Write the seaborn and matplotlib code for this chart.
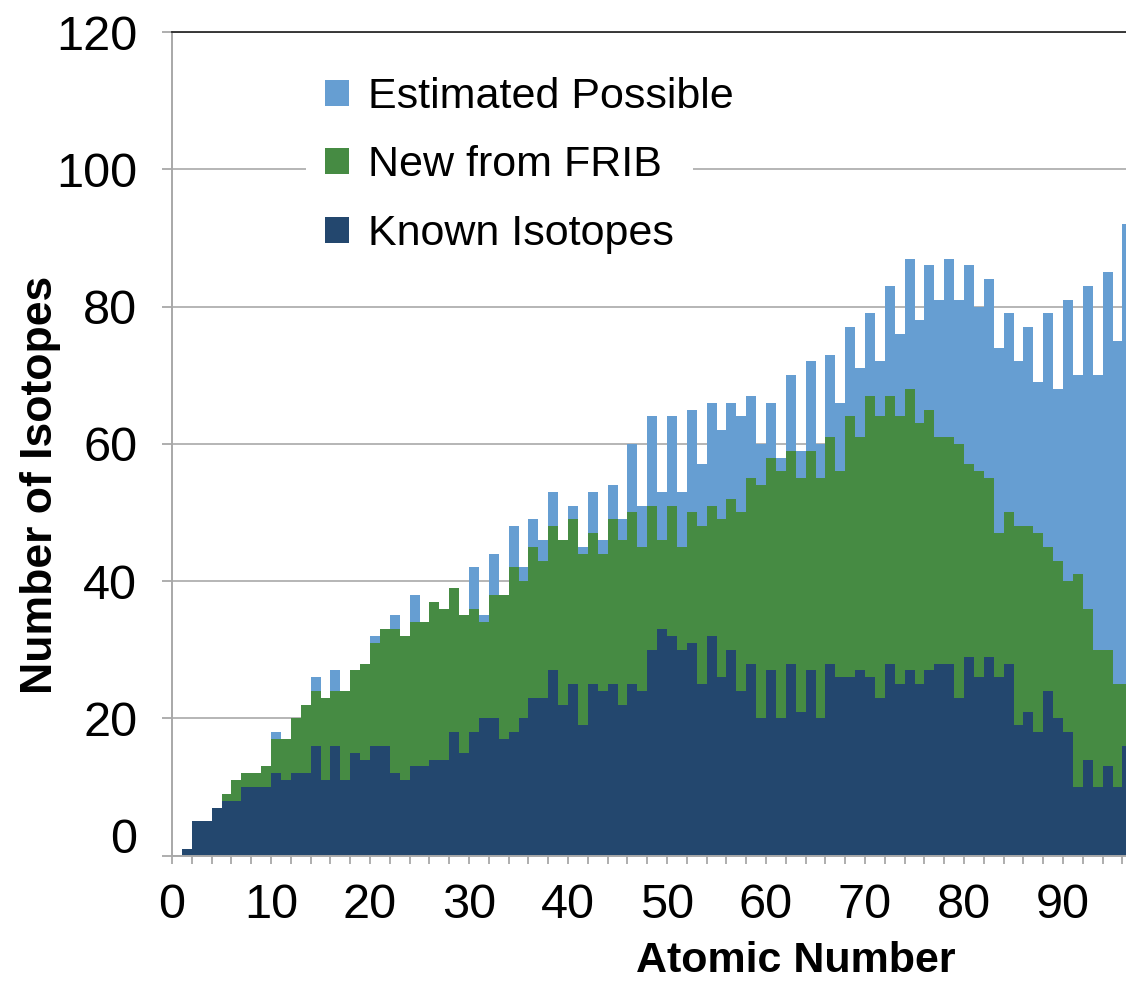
import numpy as np
import pandas as pd
import matplotlib
matplotlib.use("Agg")
import matplotlib.pyplot as plt
import matplotlib.patches as mpatches
import matplotlib.transforms as mtransforms
import seaborn as sns

# ---------------- data ----------------
atomic_number = list(range(1, 97))

known_isotopes = [1, 5, 5, 7, 8, 8, 10, 10, 10, 12,
                  11, 12, 12, 16, 11, 16, 11, 15, 14, 16,
                  16, 12, 11, 13, 13, 14, 14, 18, 15, 18,
                  20, 20, 17, 18, 20, 23, 23, 27, 22, 25,
                  19, 25, 24, 25, 22, 25, 24, 30, 33, 32,
                  30, 31, 25, 32, 26, 30, 24, 28, 20, 27,
                  20, 28, 21, 27, 20, 28, 26, 26, 27, 26,
                  23, 28, 25, 27, 25, 27, 28, 28, 23, 29,
                  26, 29, 26, 28, 19, 21, 18, 24, 20, 18,
                  10, 14, 10, 13, 10, 16]

new_from_frib = [1, 5, 5, 7, 9, 11, 12, 12, 13, 17,
                 17, 20, 22, 24, 23, 24, 24, 27, 28, 31,
                 33, 33, 32, 34, 34, 37, 36, 39, 35, 36,
                 34, 38, 38, 42, 40, 45, 43, 48, 46, 49,
                 44, 47, 44, 49, 46, 50, 45, 51, 46, 51,
                 45, 50, 48, 51, 49, 52, 50, 55, 54, 58,
                 56, 59, 55, 59, 55, 61, 56, 64, 61, 67,
                 64, 67, 64, 68, 63, 65, 61, 61, 60, 57,
                 56, 55, 47, 50, 48, 48, 47, 45, 43, 40,
                 41, 36, 30, 30, 25, 25]

estimated_possible = [1, 5, 5, 7, 9, 11, 12, 12, 13, 18,
                      17, 20, 22, 26, 23, 27, 24, 27, 28, 32,
                      33, 35, 32, 38, 34, 37, 36, 39, 35, 42,
                      35, 44, 38, 48, 42, 49, 46, 53, 46, 51,
                      45, 53, 46, 54, 49, 60, 51, 64, 53, 64,
                      53, 65, 57, 66, 62, 66, 64, 67, 60, 66,
                      58, 70, 59, 72, 60, 73, 66, 77, 71, 79,
                      72, 83, 76, 87, 78, 86, 81, 87, 81, 86,
                      80, 84, 74, 79, 72, 77, 69, 79, 68, 81,
                      70, 83, 70, 85, 75, 92]

series_names = ["Estimated Possible", "New from FRIB", "Known Isotopes"]
series_colors = ["#669ED2", "#468B43", "#23476E"]

x_tick_labels = list(range(0, 100, 10))
y_tick_labels = list(range(0, 140, 20))

# ---------------- style ----------------
sns.set_theme(style="white")
plt.rcParams["font.family"] = ["Liberation Sans", "DejaVu Sans"]
plt.rcParams["text.color"] = "black"

W, H = 1126, 982
fig = plt.figure(figsize=(W / 100, H / 100), dpi=100)
ax = fig.add_axes([172 / W, 1 - 855.7 / H, (W - 172) / W, 823.7 / H])

df = pd.DataFrame({
    "Z": atomic_number,
    "est": estimated_possible,
    "frib": new_from_frib,
    "known": known_isotopes,
})

for col, color in zip(["est", "frib", "known"], series_colors):
    sns.histplot(data=df, x="Z", weights=col, binwidth=1, binrange=(1, 97),
                 element="step", fill=True, alpha=1, linewidth=0,
                 color=color, ax=ax)

ax.set_xlim(0, (W - 172) / 9.9)
ax.set_ylim(0, 120)

# grid / spines
ax.set_axisbelow(True)
ax.yaxis.grid(True, color="#b5b5b5", linewidth=1.4)
ax.xaxis.grid(False)
for s in ["left", "bottom"]:
    ax.spines[s].set_color("#a8a8a8")
    ax.spines[s].set_linewidth(1.4)
ax.spines["right"].set_visible(False)
ax.spines["top"].set_color("#2b2b2b")
ax.spines["top"].set_linewidth(1.3)

# ticks
ax.set_xticks(x_tick_labels)
ax.set_xticklabels([str(v) for v in x_tick_labels])
ax.set_xticks(np.arange(0, 98, 2), minor=True)
ax.set_yticks(y_tick_labels)
ax.set_yticklabels([str(v) for v in y_tick_labels])
ax.tick_params(axis="x", which="both", direction="out", length=6, width=1.3,
               color="#a8a8a8", bottom=True)
ax.tick_params(axis="x", which="major", labelsize=35, pad=14, labelcolor="black")
ax.tick_params(axis="y", which="major", direction="out", length=7, width=1.3,
               color="#a8a8a8", left=True, labelsize=35, pad=18, labelcolor="black")

# nudge the y "0" label up as in the reference
lbl0 = ax.get_yticklabels()[0]
lbl0.set_transform(lbl0.get_transform() +
                   mtransforms.ScaledTranslation(0, 20 / 100, fig.dpi_scale_trans))

# axis labels
ax.set_xlabel("Atomic Number", fontsize=31, fontweight="bold", color="black")
ax.xaxis.set_label_coords((796 - 172) / (W - 172), (855.7 - 941) / 823.7)
ax.set_ylabel("Number of Isotopes", fontsize=32, fontweight="bold", color="black")
ax.yaxis.set_label_coords((61 - 172) / (W - 172), (855.7 - 485) / 823.7)

# white box behind legend (interrupts gridline)
rect = mpatches.Rectangle((306 / W, 1 - 265 / H), (693 - 306) / W, 210 / H,
                          transform=fig.transFigure, facecolor="white",
                          edgecolor="none", zorder=3, clip_on=False)
ax.add_patch(rect)

handles = [mpatches.Patch(facecolor=c, edgecolor="none", label=n)
           for n, c in zip(series_names, series_colors)]
leg = ax.legend(handles=handles, loc="upper left",
                bbox_to_anchor=(325 / W, 1 - 77 / H), bbox_transform=fig.transFigure,
                frameon=False, fontsize=31, handlelength=0.56, handleheight=0.56,
                handletextpad=0.45, labelspacing=0.66, borderpad=0, borderaxespad=0)
for t in leg.get_texts():
    t.set_color("black")
leg.set_zorder(5)

fig.savefig("out.png", dpi=100)
